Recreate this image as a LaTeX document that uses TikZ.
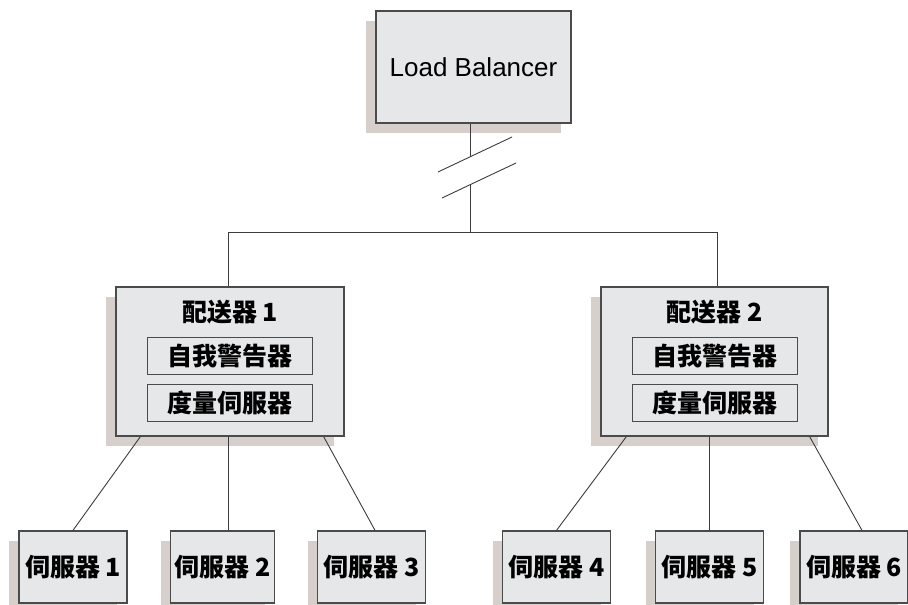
\documentclass[tikz,border=0pt]{standalone}
\usepackage{fontspec}
\setmainfont{Liberation Sans}
\newfontfamily\cjk{Noto Sans CJK SC}
\usetikzlibrary{positioning,shadows,calc}

\definecolor{boxfill}{RGB}{230,231,233}
\definecolor{shadowc}{RGB}{214,207,203}
\definecolor{boxline}{RGB}{75,75,75}
\definecolor{linec}{RGB}{60,60,60}

\begin{document}
\begin{tikzpicture}[x=1pt, y=-1pt]
    \tikzstyle{box} = [rectangle, draw=boxline, line width=1.3pt, fill=boxfill, inner sep=0pt, drop shadow={shadow xshift=-10pt, shadow yshift=-10pt, fill=shadowc, opacity=1}]
    \tikzstyle{inner} = [rectangle, draw=boxline, line width=1pt, fill=boxfill, minimum width=165, minimum height=37, inner sep=0pt]
    \tikzstyle{server} = [box, minimum width=108, minimum height=72]
    \tikzstyle{label} = [font=\cjk\bfseries\fontsize{25}{30}\selectfont]
    \tikzstyle{link} = [draw=linec, line width=0.9pt]

    \useasboundingbox (0,0) rectangle (908,605);

    % Load balancer
    \node[box, minimum width=195, minimum height=112, font=\fontsize{26}{30}\selectfont] (lb) at (473.5,67) {Load Balancer};

    % Dispatchers
    \node[box, minimum width=228, minimum height=149] (dist1) at (230,361.5) {};
    \node[box, minimum width=227, minimum height=149] (dist2) at (714.5,361.5) {};
    \foreach \d/\n in {dist1/1, dist2/2} {
        \node[label] (title\n) at ([yshift=-26pt]\d.north) {配送器 \n};
        \node[inner, label] (alert\n) at ([yshift=-70pt]\d.north) {自我警告器};
        \node[inner, label] (metric\n) at ([yshift=-116.5pt]\d.north) {度量伺服器};
    }

    % Servers
    \node[server, label] (s1) at (73,567) {伺服器 1};
    \node[server, label, minimum width=104] (s2) at (222.5,567) {伺服器 2};
    \node[server, label] (s3) at (371.5,567) {伺服器 3};
    \node[server, label] (s4) at (556.5,567) {伺服器 4};
    \node[server, label] (s5) at (709.5,567) {伺服器 5};
    \node[server, label] (s6) at (854,567) {伺服器 6};

    % Broken link to the load balancer
    \coordinate (cut1) at (470,157);
    \coordinate (cut2) at (470,185);
    \coordinate (busL) at (228,232);
    \coordinate (busR) at (717,232);
    \draw[link] (cut1 |- lb.south) -- (cut1);
    \draw[link] (438,172) -- (512,137);
    \draw[link] (442,198) -- (516,163);
    \draw[link] (cut2) -- (cut2 |- busL);

    % Bus
    \draw[link] (busL) -- (busR);
    \draw[link] (busL) -- (busL |- dist1.north);
    \draw[link] (busR) -- (busR |- dist2.north);

    % Dispatcher to servers
    \draw[link] ([xshift=25pt]dist1.south west) -- (s1.north);
    \draw[link] ([xshift=-2pt]dist1.south) -- ([xshift=5.5pt]s2.north);
    \draw[link] ([xshift=-21pt]dist1.south east) -- ([xshift=3.5pt]s3.north);
    \draw[link] ([xshift=26pt]dist2.south west) -- (s4.north);
    \draw[link] (s5.north |- dist2.south) -- (s5.north);
    \draw[link] ([xshift=-19pt]dist2.south east) -- ([xshift=8pt]s6.north);
\end{tikzpicture}
\end{document}
